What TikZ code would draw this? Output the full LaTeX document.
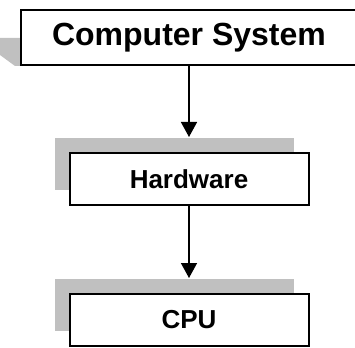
\documentclass[tikz,border=0pt]{standalone}
\usepackage{fontspec}
\setmainfont{Liberation Sans}
\usetikzlibrary{arrows.meta,shadows,positioning}
\definecolor{shadowgray}{RGB}{192,192,192}
\tikzset{
  block/.style={draw=black, line width=2pt, fill=white, inner sep=0pt,
    font=\bfseries\fontsize{26}{30}\selectfont,
    minimum width=239pt, minimum height=52pt},
  blockshadow/.style={general shadow={fill=shadowgray, shadow xshift=-15pt, shadow yshift=15pt}},
  topblock/.style={block, font=\bfseries\fontsize{32}{38}\selectfont,
    minimum width=336pt, minimum height=55pt},
  link/.style={-{Triangle[width=16pt,length=15pt]}, line width=1.5pt}
}
\begin{document}
\begin{tikzpicture}[x=1pt,y=-1pt]
  \clip (0,0) rectangle (355,347);
  % shadow of the top box
  \fill[shadowgray] (0,38) -- (20,38) -- (20,66) -- (15,66) -- (0,55) -- cycle;
  \node[topblock] (sys) at (189,37.5) {Computer System};
  \node[block, blockshadow, below=86pt of sys] (hw) {Hardware};
  \node[block, blockshadow, below=87pt of hw] (cpu) {CPU};
  \coordinate (hwtop) at ([yshift=15pt]hw.north);
  \coordinate (cputop) at ([yshift=15pt]cpu.north);
  \draw[link] (sys.south) -- (hwtop);
  \draw[link] (hw.south) -- (cputop);
\end{tikzpicture}
\end{document}
